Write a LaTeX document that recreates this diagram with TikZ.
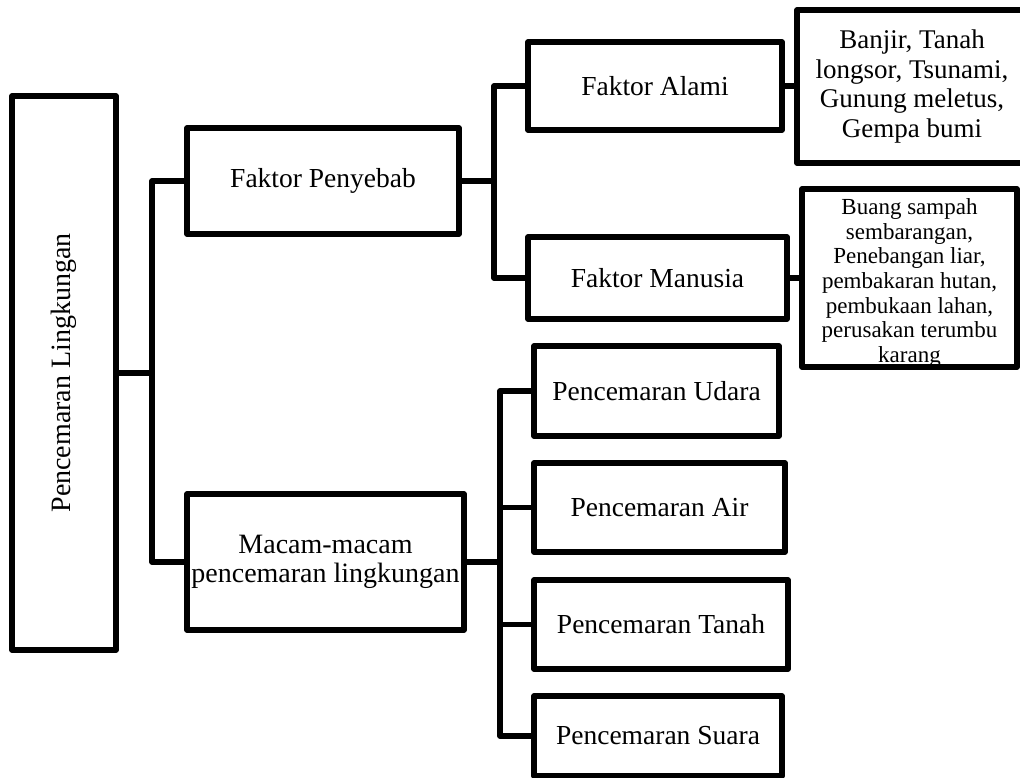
\documentclass[tikz,border=0pt]{standalone}
\usepackage{fontspec}
\setmainfont{Liberation Serif}
\usepackage{graphicx}
\begin{document}
\begin{tikzpicture}[x=1pt,y=-1pt,
  box/.style={draw, line width=5.2pt, line join=round, inner sep=0pt, align=center,
    font=\fontsize{27.5}{29.5}\selectfont},
  link/.style={line width=5.2pt, line join=round}]
\useasboundingbox (0,0) rectangle (1020,778);
% nodes
\node[box, minimum width=104pt, minimum height=554pt] (root) at (64,373)
  {\fontsize{28}{30}\selectfont\rotatebox{90}{Pencemaran Lingkungan}};
\node[box, minimum width=272pt, minimum height=106pt] (fp) at (323,181) {Faktor Penyebab};
\node[box, minimum width=277pt, minimum height=136pt, font=\fontsize{28}{28.5}\selectfont] (mm) at (325.5,562)
  {Macam-macam\\pencemaran lingkungan};
\node[box, minimum width=254pt, minimum height=88pt] (fa) at (655,86) {Faktor Alami};
\node[box, minimum width=259pt, minimum height=82pt] (fm) at (657.5,278) {Faktor Manusia};
\node[box, minimum width=230pt, minimum height=153pt, font=\fontsize{27}{29.5}\selectfont] (banjir) at (912,86.5)
  {Banjir, Tanah\\longsor, Tsunami,\\Gunung meletus,\\Gempa bumi};
\node[box, minimum width=215pt, minimum height=178pt] (buang) at (909.5,278) {};
\node[align=center, inner sep=0pt, font=\fontsize{23}{24.7}\selectfont] (buangtxt) at (909.5,283)
  {Buang sampah\\sembarangan,\\Penebangan liar,\\pembakaran hutan,\\pembukaan lahan,\\perusakan terumbu\\karang};
\node[box, minimum width=245pt, minimum height=90pt] (udara) at (656.5,391) {Pencemaran Udara};
\node[box, minimum width=251pt, minimum height=89pt] (air) at (659.5,507.5) {Pencemaran Air};
\node[box, minimum width=254pt, minimum height=89pt] (tanah) at (661,624.5) {Pencemaran Tanah};
\node[box, minimum width=248pt, minimum height=80pt] (suara) at (658,736) {Pencemaran Suara};
% junctions
\coordinate (j1) at (152,373);
\coordinate (j2) at (494,181);
\coordinate (j3) at (500,562);
% connectors
\draw[link] (root.east) -- (j1);
\draw[link] (fp.west) -- (fp.west -| j1) -- (mm.west -| j1) -- (mm.west);
\draw[link] (fp.east) -- (j2);
\draw[link] (fa.west) -- (fa.west -| j2) -- (fm.west -| j2) -- (fm.west);
\draw[link] (fa.east) -- (fa.east -| banjir.west);
\draw[link] (fm.east) -- (fm.east -| buang.west);
\draw[link] (mm.east) -- (j3);
\draw[link] (udara.west) -- (udara.west -| j3) -- (suara.west -| j3) -- (suara.west);
\draw[link] (air.west -| j3) -- (air.west);
\draw[link] (tanah.west -| j3) -- (tanah.west);
\end{tikzpicture}
\end{document}
